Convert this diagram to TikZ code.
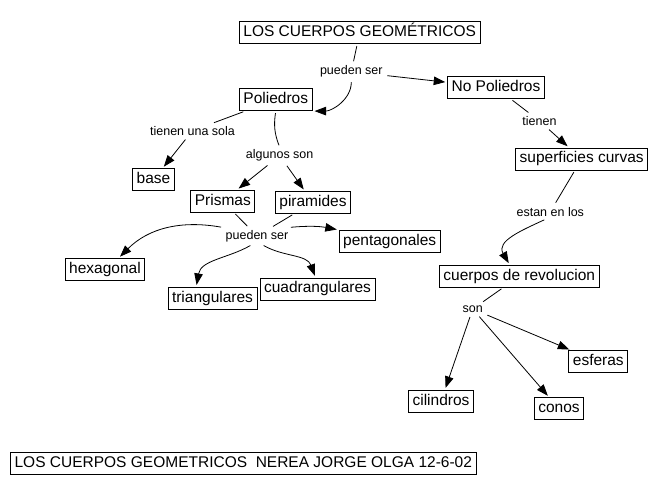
\documentclass[tikz,border=0pt]{standalone}
\usepackage{fontspec}
\setmainfont{Liberation Sans}
\usetikzlibrary{arrows.meta}
\begin{document}
\begin{tikzpicture}[x=1pt,y=1pt,
    concept/.style={draw, line width=0.8pt, inner xsep=4pt, inner ysep=3.5pt, text height=11.5pt, text depth=3.5pt, font=\fontsize{15.5}{18}\selectfont},
    linkword/.style={inner sep=2.5pt, font=\fontsize{12.5}{15}\selectfont},
    link/.style={line width=0.8pt, shorten <=2pt, shorten >=2pt},
    arrowlink/.style={link, -{Triangle[length=11.5pt,width=8.5pt]}}]
    \useasboundingbox (0,0) rectangle (659,495);
    \node[concept] (title) at (359.7,462.3) {LOS CUERPOS GEOMÉTRICOS};
    \node[concept] (nopol) at (496,407.3) {No Poliedros};
    \node[concept] (pol) at (275.8,395.3) {Poliedros};
    \node[concept] (base) at (153.5,315.3) {base};
    \node[concept] (prismas) at (222.8,293.8) {Prismas};
    \node[concept] (piramides) at (313,292.5) {piramides};
    \node[concept] (pent) at (389.7,253.7) {pentagonales};
    \node[concept] (hex) at (105,225.5) {hexagonal};
    \node[concept] (cuad) at (317.5,206) {cuadrangulares};
    \node[concept] (tri) at (212.5,196.7) {triangulares};
    \node[concept] (sup) at (581.7,336) {superficies curvas};
    \node[concept] (cuerpos) at (519.3,218.7) {cuerpos de revolucion};
    \node[concept] (esferas) at (598.3,133.3) {esferas};
    \node[concept] (cilindros) at (441,93.8) {cilindros};
    \node[concept] (conos) at (559,86.3) {conos};
    \node[concept] (footer) at (243.3,31.7) {LOS CUERPOS GEOMETRICOS\ \ NEREA JORGE OLGA 12-6-02};
    \node[linkword] (ps1) at (351.3,423.3) {pueden ser};
    \node[linkword] (tus) at (192.5,364.3) {tienen una sola};
    \node[linkword] (algunos) at (279.7,339.3) {algunos son};
    \node[linkword] (tienen) at (539.5,374) {tienen};
    \node[linkword] (estan) at (550.3,283.3) {estan en los};
    \node[linkword] (son) at (472.7,186) {son};
    \node[linkword] (ps2) at (257,259) {pueden ser};
    \draw[link] (title) -- (ps1);
    \draw[arrowlink] (ps1) -- (nopol);
    \draw[arrowlink] (ps1.south) to[out=-90,in=0] (pol.south east);
    \draw[link] (pol) -- (tus);
    \draw[arrowlink] (tus) -- (base);
    \draw[link] (pol.south) to[bend right=15] (algunos.north);
    \draw[arrowlink] (algunos) -- (prismas);
    \draw[arrowlink] (algunos) -- (piramides);
    \draw[link] (prismas) -- (ps2);
    \draw[link] (piramides) -- (ps2);
    \draw[arrowlink] (ps2.15) to[bend left=8] (pent.north west);
    \draw[arrowlink] (ps2.north west) to[out=170,in=45] (hex.40);
    \draw[arrowlink] (ps2.-120) to[out=-150,in=80] (tri.145);
    \draw[arrowlink] (ps2.-60) to[out=-30,in=110] (cuad.100);
    \draw[link] (nopol) -- (tienen);
    \draw[arrowlink] (tienen) -- (sup);
    \draw[link] (sup) -- (estan);
    \draw[arrowlink] (estan.-120) to[out=205,in=120,looseness=1.2] (cuerpos.130);
    \draw[link] (cuerpos) -- (son);
    \draw[arrowlink] (son) -- (cilindros);
    \draw[arrowlink] (son) -- (conos);
    \draw[arrowlink] (son) -- (esferas);
\end{tikzpicture}
\end{document}
